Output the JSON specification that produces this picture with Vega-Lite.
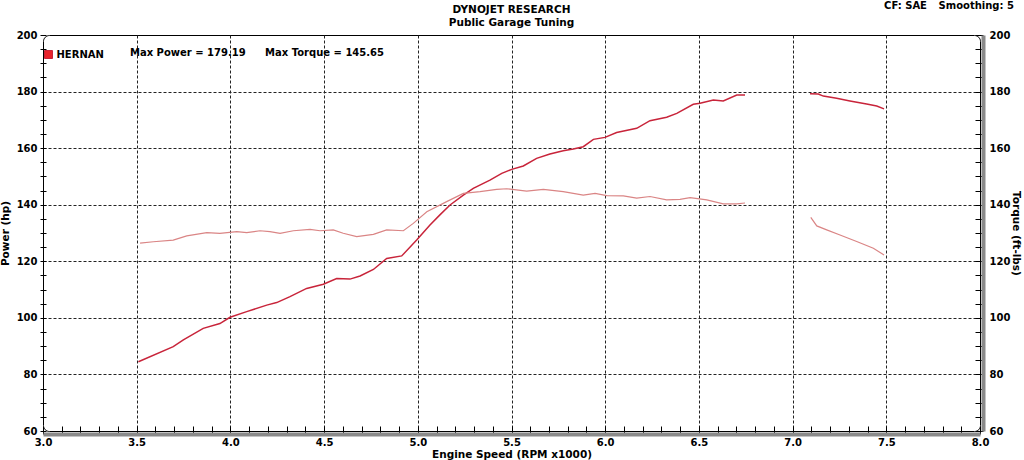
{
  "$schema": "https://vega.github.io/schema/vega-lite/v6.json",
  "width": 937,
  "height": 396,
  "autosize": {"type": "none"},
  "padding": {"left": 43, "top": 35, "right": 44, "bottom": 29},
  "background": "white",
  "title": {
    "text": "DYNOJET RESEARCH",
    "subtitle": "Public Garage Tuning",
    "anchor": "middle",
    "font": "DejaVu Sans",
    "fontSize": 10.5,
    "fontWeight": "bold",
    "color": "#000000",
    "subtitleFont": "DejaVu Sans",
    "subtitleFontSize": 10.5,
    "subtitleFontWeight": "bold",
    "subtitleColor": "#000000",
    "subtitlePadding": 2,
    "offset": -27
  },
  "config": {
    "view": {"stroke": "#000000", "strokeWidth": 1, "cornerRadius": 6},
    "axis": {
      "labelFont": "DejaVu Sans",
      "labelFontSize": 10,
      "labelFontWeight": "bold",
      "labelColor": "#000000",
      "titleFont": "DejaVu Sans",
      "titleFontSize": 10.5,
      "titleFontWeight": "bold",
      "titleColor": "#000000",
      "tickColor": "#000000",
      "tickWidth": 1,
      "gridColor": "#222222",
      "gridDash": [3, 2],
      "gridWidth": 1
    }
  },
  "data": {
    "values": [
      {"rpm": 3.509, "value": 84.5, "measure": "Power", "run": 1, "name": "HERNAN"},
      {"rpm": 3.695, "value": 89.8, "measure": "Power", "run": 1, "name": "HERNAN"},
      {"rpm": 3.749, "value": 92.2, "measure": "Power", "run": 1, "name": "HERNAN"},
      {"rpm": 3.855, "value": 96.3, "measure": "Power", "run": 1, "name": "HERNAN"},
      {"rpm": 3.944, "value": 98.0, "measure": "Power", "run": 1, "name": "HERNAN"},
      {"rpm": 3.998, "value": 100.2, "measure": "Power", "run": 1, "name": "HERNAN"},
      {"rpm": 4.087, "value": 102.2, "measure": "Power", "run": 1, "name": "HERNAN"},
      {"rpm": 4.194, "value": 104.5, "measure": "Power", "run": 1, "name": "HERNAN"},
      {"rpm": 4.247, "value": 105.4, "measure": "Power", "run": 1, "name": "HERNAN"},
      {"rpm": 4.318, "value": 107.5, "measure": "Power", "run": 1, "name": "HERNAN"},
      {"rpm": 4.407, "value": 110.4, "measure": "Power", "run": 1, "name": "HERNAN"},
      {"rpm": 4.496, "value": 111.9, "measure": "Power", "run": 1, "name": "HERNAN"},
      {"rpm": 4.567, "value": 113.9, "measure": "Power", "run": 1, "name": "HERNAN"},
      {"rpm": 4.638, "value": 113.7, "measure": "Power", "run": 1, "name": "HERNAN"},
      {"rpm": 4.692, "value": 114.8, "measure": "Power", "run": 1, "name": "HERNAN"},
      {"rpm": 4.763, "value": 117.1, "measure": "Power", "run": 1, "name": "HERNAN"},
      {"rpm": 4.834, "value": 121.0, "measure": "Power", "run": 1, "name": "HERNAN"},
      {"rpm": 4.914, "value": 121.9, "measure": "Power", "run": 1, "name": "HERNAN"},
      {"rpm": 4.994, "value": 127.5, "measure": "Power", "run": 1, "name": "HERNAN"},
      {"rpm": 5.065, "value": 132.8, "measure": "Power", "run": 1, "name": "HERNAN"},
      {"rpm": 5.118, "value": 136.4, "measure": "Power", "run": 1, "name": "HERNAN"},
      {"rpm": 5.172, "value": 139.9, "measure": "Power", "run": 1, "name": "HERNAN"},
      {"rpm": 5.243, "value": 143.4, "measure": "Power", "run": 1, "name": "HERNAN"},
      {"rpm": 5.296, "value": 145.8, "measure": "Power", "run": 1, "name": "HERNAN"},
      {"rpm": 5.385, "value": 148.7, "measure": "Power", "run": 1, "name": "HERNAN"},
      {"rpm": 5.448, "value": 151.1, "measure": "Power", "run": 1, "name": "HERNAN"},
      {"rpm": 5.501, "value": 152.5, "measure": "Power", "run": 1, "name": "HERNAN"},
      {"rpm": 5.563, "value": 153.7, "measure": "Power", "run": 1, "name": "HERNAN"},
      {"rpm": 5.634, "value": 156.4, "measure": "Power", "run": 1, "name": "HERNAN"},
      {"rpm": 5.705, "value": 157.9, "measure": "Power", "run": 1, "name": "HERNAN"},
      {"rpm": 5.776, "value": 159.1, "measure": "Power", "run": 1, "name": "HERNAN"},
      {"rpm": 5.830, "value": 159.7, "measure": "Power", "run": 1, "name": "HERNAN"},
      {"rpm": 5.883, "value": 160.5, "measure": "Power", "run": 1, "name": "HERNAN"},
      {"rpm": 5.937, "value": 163.1, "measure": "Power", "run": 1, "name": "HERNAN"},
      {"rpm": 5.999, "value": 163.8, "measure": "Power", "run": 1, "name": "HERNAN"},
      {"rpm": 6.061, "value": 165.5, "measure": "Power", "run": 1, "name": "HERNAN"},
      {"rpm": 6.168, "value": 167.0, "measure": "Power", "run": 1, "name": "HERNAN"},
      {"rpm": 6.239, "value": 169.7, "measure": "Power", "run": 1, "name": "HERNAN"},
      {"rpm": 6.328, "value": 170.9, "measure": "Power", "run": 1, "name": "HERNAN"},
      {"rpm": 6.382, "value": 172.3, "measure": "Power", "run": 1, "name": "HERNAN"},
      {"rpm": 6.470, "value": 175.5, "measure": "Power", "run": 1, "name": "HERNAN"},
      {"rpm": 6.506, "value": 175.9, "measure": "Power", "run": 1, "name": "HERNAN"},
      {"rpm": 6.577, "value": 177.0, "measure": "Power", "run": 1, "name": "HERNAN"},
      {"rpm": 6.630, "value": 176.7, "measure": "Power", "run": 1, "name": "HERNAN"},
      {"rpm": 6.702, "value": 178.8, "measure": "Power", "run": 1, "name": "HERNAN"},
      {"rpm": 6.746, "value": 178.8, "measure": "Power", "run": 1, "name": "HERNAN"},
      {"rpm": 7.093, "value": 179.19, "measure": "Power", "run": 2, "name": "HERNAN"},
      {"rpm": 7.137, "value": 179.1, "measure": "Power", "run": 2, "name": "HERNAN"},
      {"rpm": 7.164, "value": 178.4, "measure": "Power", "run": 2, "name": "HERNAN"},
      {"rpm": 7.235, "value": 177.6, "measure": "Power", "run": 2, "name": "HERNAN"},
      {"rpm": 7.306, "value": 176.7, "measure": "Power", "run": 2, "name": "HERNAN"},
      {"rpm": 7.395, "value": 175.6, "measure": "Power", "run": 2, "name": "HERNAN"},
      {"rpm": 7.449, "value": 174.9, "measure": "Power", "run": 2, "name": "HERNAN"},
      {"rpm": 7.488, "value": 173.9, "measure": "Power", "run": 2, "name": "HERNAN"},
      {"rpm": 3.518, "value": 126.4, "measure": "Torque", "run": 1, "name": "HERNAN"},
      {"rpm": 3.589, "value": 126.9, "measure": "Torque", "run": 1, "name": "HERNAN"},
      {"rpm": 3.695, "value": 127.5, "measure": "Torque", "run": 1, "name": "HERNAN"},
      {"rpm": 3.767, "value": 129.0, "measure": "Torque", "run": 1, "name": "HERNAN"},
      {"rpm": 3.874, "value": 130.1, "measure": "Torque", "run": 1, "name": "HERNAN"},
      {"rpm": 3.944, "value": 129.9, "measure": "Torque", "run": 1, "name": "HERNAN"},
      {"rpm": 4.034, "value": 130.5, "measure": "Torque", "run": 1, "name": "HERNAN"},
      {"rpm": 4.087, "value": 130.1, "measure": "Torque", "run": 1, "name": "HERNAN"},
      {"rpm": 4.158, "value": 130.8, "measure": "Torque", "run": 1, "name": "HERNAN"},
      {"rpm": 4.211, "value": 130.5, "measure": "Torque", "run": 1, "name": "HERNAN"},
      {"rpm": 4.265, "value": 129.9, "measure": "Torque", "run": 1, "name": "HERNAN"},
      {"rpm": 4.336, "value": 130.8, "measure": "Torque", "run": 1, "name": "HERNAN"},
      {"rpm": 4.425, "value": 131.3, "measure": "Torque", "run": 1, "name": "HERNAN"},
      {"rpm": 4.478, "value": 130.8, "measure": "Torque", "run": 1, "name": "HERNAN"},
      {"rpm": 4.549, "value": 131.1, "measure": "Torque", "run": 1, "name": "HERNAN"},
      {"rpm": 4.602, "value": 129.9, "measure": "Torque", "run": 1, "name": "HERNAN"},
      {"rpm": 4.674, "value": 128.7, "measure": "Torque", "run": 1, "name": "HERNAN"},
      {"rpm": 4.763, "value": 129.5, "measure": "Torque", "run": 1, "name": "HERNAN"},
      {"rpm": 4.834, "value": 131.1, "measure": "Torque", "run": 1, "name": "HERNAN"},
      {"rpm": 4.923, "value": 130.8, "measure": "Torque", "run": 1, "name": "HERNAN"},
      {"rpm": 4.976, "value": 133.4, "measure": "Torque", "run": 1, "name": "HERNAN"},
      {"rpm": 5.048, "value": 137.5, "measure": "Torque", "run": 1, "name": "HERNAN"},
      {"rpm": 5.154, "value": 141.1, "measure": "Torque", "run": 1, "name": "HERNAN"},
      {"rpm": 5.243, "value": 144.0, "measure": "Torque", "run": 1, "name": "HERNAN"},
      {"rpm": 5.332, "value": 144.6, "measure": "Torque", "run": 1, "name": "HERNAN"},
      {"rpm": 5.421, "value": 145.4, "measure": "Torque", "run": 1, "name": "HERNAN"},
      {"rpm": 5.474, "value": 145.65, "measure": "Torque", "run": 1, "name": "HERNAN"},
      {"rpm": 5.581, "value": 144.8, "measure": "Torque", "run": 1, "name": "HERNAN"},
      {"rpm": 5.670, "value": 145.4, "measure": "Torque", "run": 1, "name": "HERNAN"},
      {"rpm": 5.776, "value": 144.6, "measure": "Torque", "run": 1, "name": "HERNAN"},
      {"rpm": 5.883, "value": 143.4, "measure": "Torque", "run": 1, "name": "HERNAN"},
      {"rpm": 5.946, "value": 144.0, "measure": "Torque", "run": 1, "name": "HERNAN"},
      {"rpm": 6.008, "value": 143.2, "measure": "Torque", "run": 1, "name": "HERNAN"},
      {"rpm": 6.097, "value": 143.1, "measure": "Torque", "run": 1, "name": "HERNAN"},
      {"rpm": 6.168, "value": 142.3, "measure": "Torque", "run": 1, "name": "HERNAN"},
      {"rpm": 6.239, "value": 142.9, "measure": "Torque", "run": 1, "name": "HERNAN"},
      {"rpm": 6.328, "value": 141.7, "measure": "Torque", "run": 1, "name": "HERNAN"},
      {"rpm": 6.399, "value": 141.9, "measure": "Torque", "run": 1, "name": "HERNAN"},
      {"rpm": 6.453, "value": 142.5, "measure": "Torque", "run": 1, "name": "HERNAN"},
      {"rpm": 6.542, "value": 141.7, "measure": "Torque", "run": 1, "name": "HERNAN"},
      {"rpm": 6.630, "value": 140.3, "measure": "Torque", "run": 1, "name": "HERNAN"},
      {"rpm": 6.702, "value": 140.3, "measure": "Torque", "run": 1, "name": "HERNAN"},
      {"rpm": 6.746, "value": 140.6, "measure": "Torque", "run": 1, "name": "HERNAN"},
      {"rpm": 7.097, "value": 135.5, "measure": "Torque", "run": 2, "name": "HERNAN"},
      {"rpm": 7.129, "value": 132.5, "measure": "Torque", "run": 2, "name": "HERNAN"},
      {"rpm": 7.182, "value": 131.1, "measure": "Torque", "run": 2, "name": "HERNAN"},
      {"rpm": 7.253, "value": 129.3, "measure": "Torque", "run": 2, "name": "HERNAN"},
      {"rpm": 7.342, "value": 127.0, "measure": "Torque", "run": 2, "name": "HERNAN"},
      {"rpm": 7.431, "value": 124.6, "measure": "Torque", "run": 2, "name": "HERNAN"},
      {"rpm": 7.488, "value": 122.2, "measure": "Torque", "run": 2, "name": "HERNAN"}
    ]
  },
  "layer": [
    {
      "transform": [{"filter": "datum.measure == 'Power'"}],
      "mark": {"type": "line", "strokeWidth": 1.5},
      "encoding": {
        "x": {
          "field": "rpm",
          "type": "quantitative",
          "scale": {"domain": [3, 8], "nice": false, "zero": false},
          "axis": {
            "title": "Engine Speed (RPM x1000)",
            "orient": "bottom",
            "values": [3.0, 3.1, 3.2, 3.3, 3.4, 3.5, 3.6, 3.7, 3.8, 3.9, 4.0, 4.1, 4.2, 4.3, 4.4, 4.5, 4.6, 4.7, 4.8, 4.9, 5.0, 5.1, 5.2, 5.3, 5.4, 5.5, 5.6, 5.7, 5.8, 5.9, 6.0, 6.1, 6.2, 6.3, 6.4, 6.5, 6.6, 6.7, 6.8, 6.9, 7.0, 7.1, 7.2, 7.3, 7.4, 7.5, 7.6, 7.7, 7.8, 7.9, 8.0],
            "tickCount": 200,
            "labelExpr": "abs(datum.value * 2 - round(datum.value * 2)) < 0.01 ? format(datum.value, '.1f') : ''",
            "labelFlush": false,
            "labelOverlap": false,
            "grid": true,
            "gridOpacity": {"condition": {"test": "abs(datum.value * 2 - round(datum.value * 2)) < 0.01 && datum.value > 3.05 && datum.value < 7.95", "value": 1}, "value": 0},
            "domain": true,
            "domainColor": "#8a8a8a",
            "domainWidth": 4,
            "offset": 3,
            "tickSize": -8,
            "labelPadding": 11,
            "titlePadding": 2
          }
        },
        "y": {
          "field": "value",
          "type": "quantitative",
          "scale": {"domain": [60, 200], "nice": false, "zero": false},
          "axis": {
            "title": "Power (hp)",
            "orient": "left",
            "values": [60, 65, 70, 75, 80, 85, 90, 95, 100, 105, 110, 115, 120, 125, 130, 135, 140, 145, 150, 155, 160, 165, 170, 175, 180, 185, 190, 195, 200],
            "tickCount": 200,
            "labelExpr": "datum.value % 20 == 0 ? datum.value : ''",
            "labelOverlap": false,
            "labelFlush": false,
            "grid": true,
            "gridOpacity": {"condition": {"test": "datum.value % 20 == 0 && datum.value > 60 && datum.value < 200", "value": 1}, "value": 0},
            "domain": false,
            "offset": -3,
            "tickSize": 6,
            "labelPadding": 3,
            "titlePadding": 6
          }
        },
        "detail": {"field": "run", "type": "nominal"},
        "color": {
          "field": "name",
          "type": "nominal",
          "scale": {"domain": ["HERNAN"], "range": ["#c8243a"]},
          "legend": {
            "title": null,
            "orient": "none",
            "legendX": 0.5,
            "legendY": 14.5,
            "padding": 0,
            "symbolType": "square",
            "symbolSize": 64,
            "symbolFillColor": "#e8232b",
            "symbolStrokeColor": "#8a0000",
            "symbolStrokeWidth": 1,
            "labelFont": "DejaVu Sans",
            "labelFontSize": 10,
            "labelFontWeight": "bold",
            "labelColor": "#000000",
            "labelOffset": 3
          }
        }
      }
    },
    {
      "transform": [{"filter": "datum.measure == 'Torque'"}],
      "mark": {"type": "line", "strokeWidth": 1.2, "color": "#da8585"},
      "encoding": {
        "x": {"field": "rpm", "type": "quantitative"},
        "y": {
          "field": "value",
          "type": "quantitative",
          "axis": {
            "title": "Torque (ft-lbs)",
            "orient": "right",
            "titleAngle": 90,
            "values": [60, 65, 70, 75, 80, 85, 90, 95, 100, 105, 110, 115, 120, 125, 130, 135, 140, 145, 150, 155, 160, 165, 170, 175, 180, 185, 190, 195, 200],
            "tickCount": 200,
            "labelExpr": "datum.value % 20 == 0 ? datum.value : ''",
            "labelOverlap": false,
            "labelFlush": false,
            "grid": false,
            "domain": true,
            "domainColor": "#8a8a8a",
            "domainWidth": 4,
            "offset": 3,
            "tickSize": -8,
            "labelPadding": 14,
            "titlePadding": 1
          }
        },
        "detail": {"field": "run", "type": "nominal"}
      }
    },
    {
      "transform": [
        {"filter": "datum.measure == 'Power'"},
        {"aggregate": [{"op": "max", "field": "value", "as": "maxv"}]},
        {"calculate": "'Max Power = ' + format(datum.maxv, '.2f')", "as": "label"}
      ],
      "mark": {"type": "text", "align": "left", "baseline": "middle", "font": "DejaVu Sans", "fontSize": 10, "fontWeight": "bold", "color": "#000000"},
      "encoding": {
        "x": {"datum": 3.464, "type": "quantitative"},
        "y": {"datum": 193.6, "type": "quantitative", "axis": null},
        "text": {"field": "label"}
      }
    },
    {
      "transform": [
        {"filter": "datum.measure == 'Torque'"},
        {"aggregate": [{"op": "max", "field": "value", "as": "maxv"}]},
        {"calculate": "'Max Torque = ' + format(datum.maxv, '.2f')", "as": "label"}
      ],
      "mark": {"type": "text", "align": "left", "baseline": "middle", "font": "DejaVu Sans", "fontSize": 10, "fontWeight": "bold", "color": "#000000"},
      "encoding": {
        "x": {"datum": 4.185, "type": "quantitative"},
        "y": {"datum": 193.6, "type": "quantitative", "axis": null},
        "text": {"field": "label"}
      }
    },
    {
      "data": {"values": [{"note": "CF: SAE"}]},
      "mark": {"type": "text", "align": "right", "baseline": "middle", "font": "DejaVu Sans", "fontSize": 10, "fontWeight": "bold", "color": "#000000"},
      "encoding": {
        "x": {"datum": 7.717, "type": "quantitative"},
        "y": {"datum": 210.1, "type": "quantitative", "axis": null},
        "text": {"field": "note"}
      }
    },
    {
      "data": {"values": [{"note": "Smoothing: 5"}]},
      "mark": {"type": "text", "align": "right", "baseline": "middle", "font": "DejaVu Sans", "fontSize": 10, "fontWeight": "bold", "color": "#000000"},
      "encoding": {
        "x": {"datum": 8.181, "type": "quantitative"},
        "y": {"datum": 210.1, "type": "quantitative", "axis": null},
        "text": {"field": "note"}
      }
    }
  ],
  "resolve": {"axis": {"y": "independent"}}
}
